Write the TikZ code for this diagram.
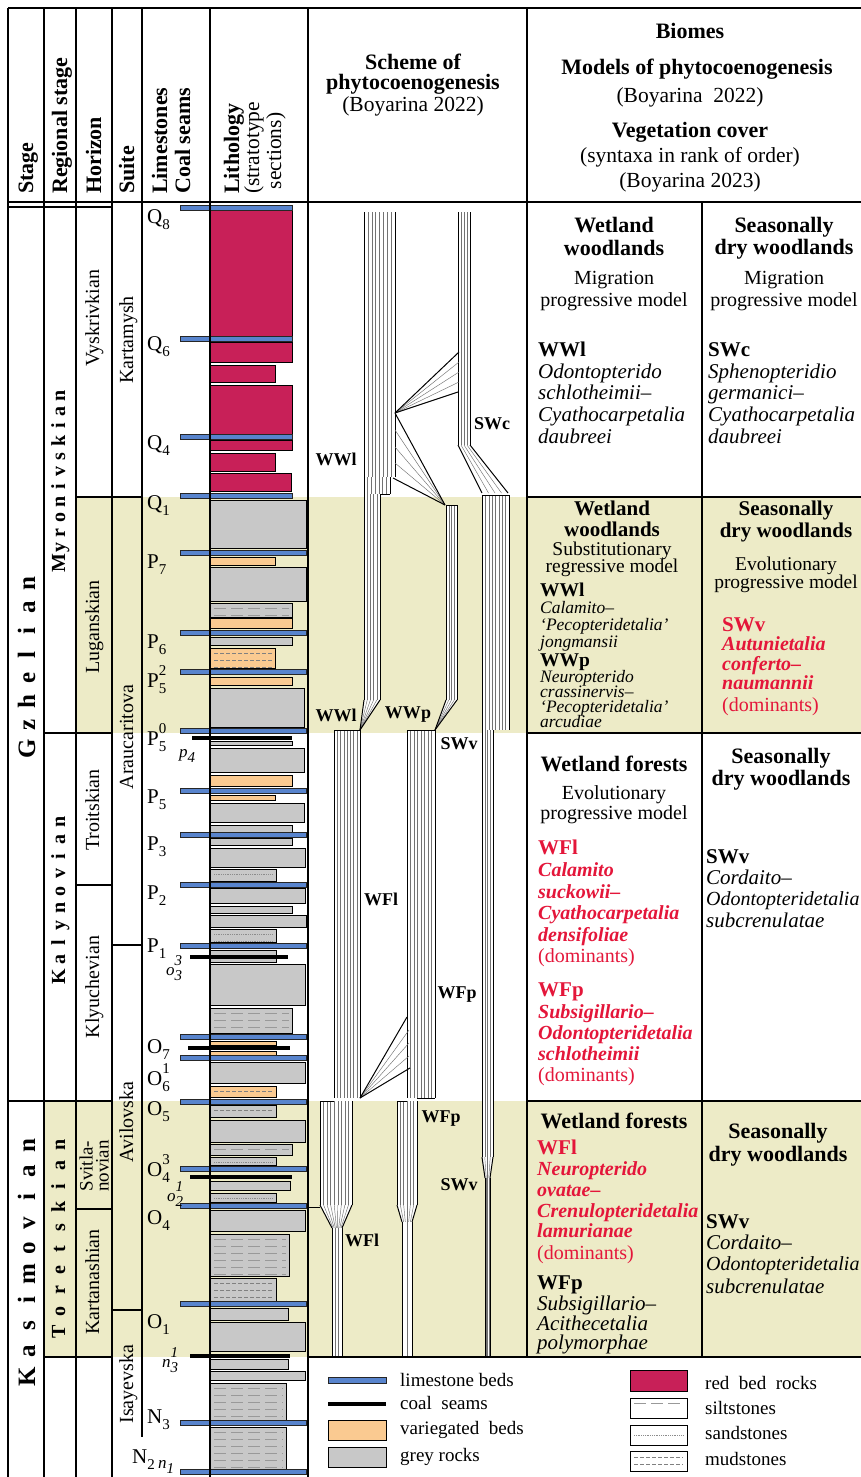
\documentclass[tikz,border=0pt]{standalone}
\usepackage{fontspec}
\setmainfont{Liberation Serif}
\definecolor{band}{RGB}{237,235,199}
\definecolor{redbed}{RGB}{200,32,88}
\definecolor{greyrock}{RGB}{200,200,200}
\definecolor{varbed}{RGB}{250,202,145}
\definecolor{limeblue}{RGB}{88,132,205}
\definecolor{redtxt}{RGB}{228,22,58}
\newcommand\fz[2]{\fontsize{#1}{#2}\selectfont}
\newcounter{tn}
\newcommand\tx[4]{\stepcounter{tn}\edef\tname{t\arabic{tn}}\node[#1] (\tname) at (#2,#3) {#4};}
\newcommand\lsub[1]{\raisebox{-0.3em}{\fz{15}{15}#1}}
\newcommand\lsupsub[2]{\rlap{\raisebox{0.55em}{\fz{15}{15}#1}}\raisebox{-0.3em}{\fz{15}{15}#2}}
\tikzset{
 gl/.style={line width=1.2pt},
 redr/.style={fill=redbed,draw=black,line width=0.9pt},
 greyr/.style={fill=greyrock,draw=black,line width=0.9pt},
 varr/.style={fill=varbed,draw=black,line width=0.9pt},
 limeb/.style={fill=limeblue,draw=black!85,line width=0.8pt},
 sandp/.style={densely dotted,line width=0.8pt,draw=black!45},
 mudp/.style={dash pattern=on 4pt off 2pt,line width=0.6pt,draw=black!50},
 siltp/.style={dash pattern=on 12pt off 5pt,line width=0.4pt,draw=black!40},
 inl/.style={line width=0.45pt,draw=black!55},
 edg/.style={line width=1pt,draw=black},
 hb/.style={inner sep=0pt,anchor=base,font=\bfseries\fz{22}{24}},
 hb2/.style={inner sep=0pt,anchor=base,font=\bfseries\fz{21}{22}},
 hr/.style={inner sep=0pt,anchor=base,font=\fz{21.5}{24}},
 cr/.style={inner sep=0pt,anchor=base,font=\fz{20}{22}},
 cr2/.style={inner sep=0pt,anchor=base,font=\fz{19.5}{21}},
 lb/.style={inner sep=0pt,anchor=base west,font=\bfseries\fz{21}{23}},
 lb2/.style={inner sep=0pt,anchor=base west,font=\bfseries\fz{19.5}{21}},
 si/.style={inner sep=0pt,anchor=base west,font=\itshape\fz{21}{23}},
 sis/.style={inner sep=0pt,anchor=base west,font=\itshape\fz{20}{22}},
 si2/.style={inner sep=0pt,anchor=base west,font=\itshape\fz{17.5}{19}},
 rb/.style={lb,text=redtxt},
 rbi/.style={inner sep=0pt,anchor=base west,text=redtxt,font=\bfseries\itshape\fz{20}{22}},
 rr/.style={inner sep=0pt,anchor=base west,text=redtxt,font=\fz{20}{22}},
 lgd/.style={inner sep=0pt,anchor=base west,font=\fz{19}{21}},
 sch/.style={inner sep=0pt,anchor=center,font=\bfseries\fz{18}{20}},
 vt/.style={inner sep=0pt,anchor=base,rotate=90,font=\fz{20}{22}},
 hv/.style={inner sep=0pt,anchor=base west,rotate=90,font=\bfseries\fz{22}{24}},
 hvr/.style={inner sep=0pt,anchor=base west,rotate=90,font=\fz{21.5}{24}},
 hvc/.style={inner sep=0pt,anchor=base,rotate=90,font=\fz{21.5}{24}},
 lim/.style={inner sep=0pt,anchor=base west,font=\fz{21}{23}},
 smi/.style={inner sep=0pt,anchor=base west,font=\itshape\fz{17}{19}},
 stg/.style={inner sep=0pt,anchor=base,font=\bfseries\fz{25}{25}},
 rst/.style={inner sep=0pt,anchor=base,font=\bfseries\fz{20}{20}}
}
\newcommand\rk[4]{\draw[#4] (210,#1) rectangle (#3,#2);}
\newcommand\rkp[5]{\draw[#4] (210,#1) rectangle (#3,#2);
 \begin{scope}\clip (211,{#1+1}) rectangle ({#3-1},{#2-1});
 \foreach \kk in {0,...,8}{\draw[#5] (214,{#1+5+\kk*7}) -- ({#3-3},{#1+5+\kk*7});}
 \end{scope}}
\newcommand\ls[2]{\draw[limeb] (180,{#1-2.6}) rectangle (#2,{#1+2.6});}
\newcommand\cs[3]{\draw[line width=3.6pt] (#2,#1) -- (#3,#1);}
\newcommand\bund[7]{%
 \fill[white] (#2,#1) -- (#3,#1) -- (#6,#4) -- (#5,#4) -- cycle;
 \pgfmathtruncatemacro\bn{#7-1}%
 \foreach \i in {1,...,\bn}{\draw[inl] ({#2+\i*(#3-#2)/#7},#1) -- ({#5+\i*(#6-#5)/#7},#4);}%
 \draw[edg] (#2,#1) -- (#5,#4); \draw[edg] (#3,#1) -- (#6,#4);}
\newcommand\vword[6]{\foreach \ch [count=\kk from 0] in {#6}{\node[#5,rotate=90] (#1\kk) at (#2,{#3-\kk*#4}) {\ch};}}
\begin{document}
\begin{tikzpicture}[x=1pt,y=-1pt]
\useasboundingbox (0,0) rectangle (861,1477);
\fill[white] (0,0) rectangle (861,1477);
\fill[band] (76,497) rectangle (861,733);
\fill[band] (44,1101) rectangle (861,1357);
% ---------- lithology ----------
\rk{210}{338}{292}{redr}
\rk{342}{362}{292}{redr}
\rk{365}{382}{275}{redr}
\rk{385}{435}{292}{redr}
\rk{440}{450}{292}{redr}
\rk{453}{471}{275}{redr}
\rk{473}{491}{291}{redr}
\rk{500}{548}{306}{greyr}
\rk{557}{565}{275}{varr}
\rk{567}{601}{306}{greyr}
\rkp{603}{617}{292}{greyr}{siltp}
\rk{618}{628}{292}{varr}
\rk{637}{645}{292}{greyr}
\rkp{648}{668}{275}{varr}{mudp}
\rk{677}{685}{292}{varr}
\rk{688}{727}{304}{greyr}
\rk{741}{745}{292}{greyr}
\rk{748}{772}{304}{greyr}
\rk{775}{786}{292}{varr}
\rk{795}{800}{275}{varr}
\rk{803}{822}{304}{greyr}
\rk{825}{832}{292}{greyr}
\rk{838}{845}{292}{greyr}
\rk{848}{867}{305}{greyr}
\rkp{869}{881}{276}{greyr}{sandp}
\rk{888}{903}{305}{greyr}
\rk{906}{913}{292}{greyr}
\rk{915}{927}{306}{greyr}
\rkp{929}{942}{276}{greyr}{sandp}
\rkp{950}{962}{276}{greyr}{sandp}
\rk{964}{1005}{305}{greyr}
\rkp{1008}{1033}{292}{greyr}{siltp}
\rk{1041}{1045}{276}{varr}
\rk{1051}{1055}{276}{varr}
\rk{1062}{1083}{305}{greyr}
\rkp{1086}{1097}{276}{varr}{mudp}
\rkp{1105}{1117}{276}{greyr}{mudp}
\rk{1120}{1142}{305}{greyr}
\rkp{1144}{1155}{292}{greyr}{siltp}
\rkp{1157}{1165}{276}{greyr}{sandp}
\rk{1181}{1190}{290}{greyr}
\rkp{1193}{1202}{276}{greyr}{sandp}
\rk{1210}{1231}{305}{greyr}
\rkp{1234}{1276}{289}{greyr}{siltp}
\rkp{1278}{1302}{276}{greyr}{mudp}
\rk{1308}{1320}{288}{greyr}
\rk{1322}{1351}{305}{greyr}
\rk{1359}{1369}{288}{greyr}
\rk{1371}{1380}{305}{greyr}
\rkp{1383}{1421}{286}{greyr}{siltp}
\rkp{1427}{1469}{286}{greyr}{siltp}
% limestone beds
\ls{208}{292}\ls{339}{292}\ls{437}{292}\ls{496}{292}
\ls{553}{306}\ls{633}{306}\ls{672}{306}\ls{731}{306}\ls{791}{306}
\ls{835}{306}\ls{885}{306}\ls{946}{306}\ls{1037}{306}\ls{1058}{306}
\ls{1102}{306}\ls{1169}{306}\ls{1206}{306}\ls{1304}{306}\ls{1423}{306}\ls{1472}{306}
% coal seams
\cs{738}{192}{292}\cs{957}{190}{288}\cs{1048}{188}{290}\cs{1177}{190}{292}\cs{1356}{190}{290}
% ---------- scheme ----------
\bund{212}{364}{395}{477}{364}{395}{8}
\bund{477}{364}{390}{494}{364}{390}{7}
\draw[edg] (380,494) -- (390,494);
\bund{494}{364}{380}{700}{364}{380}{5}
\bund{700}{364}{380}{730}{360}{360}{5}
\bund{212}{458}{470}{445}{458}{470}{4}
\bund{445}{458}{470}{493}{482}{508}{4}
\bund{495}{482}{509}{730}{482}{509}{8}
\draw[edg] (482,495) -- (509,495);
\foreach \yy in {362,372,382}{\draw[inl] (395,413) -- (459,\yy);}
\draw[edg] (395,413) -- (459,352);
\draw[edg] (395,413) -- (458,392);
\foreach \yy in {430,447,463}{\draw[inl] (395,\yy) -- (445,505);}
\draw[edg] (395,413) -- (445,505);
\draw[edg] (393,478) -- (445,505);
\bund{505}{446}{457}{700}{446}{457}{4}
\bund{700}{446}{457}{730}{435}{435}{4}
\draw[edg] (446,505) -- (457,505);
\bund{730}{334}{360}{1098}{334}{360}{8}
\draw[edg] (334,730) -- (360,730);
\bund{730}{407}{435}{1098}{407}{435}{8}
\draw[edg] (407,730) -- (435,730);
\bund{730}{482}{493}{1157}{482}{493}{4}
\bund{1157}{482}{493}{1178}{485}{490}{4}
\bund{1178}{485}{490}{1357}{485}{490}{4}
\foreach \yy in {1030,1043,1056}{\draw[inl] (360,1098) -- (409,\yy);}
\draw[edg] (360,1098) -- (407,1017);
\draw[edg] (360,1098) -- (410,1068);
\bund{1101}{320}{352}{1205}{320}{352}{9}
\bund{1205}{320}{352}{1228}{332}{342}{9}
\bund{1228}{332}{342}{1357}{332}{342}{3}
\draw[edg] (320,1101) -- (334,1101);
\bund{1101}{397}{417}{1205}{397}{417}{6}
\bund{1205}{397}{417}{1222}{402}{412}{6}
\bund{1222}{402}{412}{1357}{402}{412}{2}
\draw[edg] (397,1101) -- (407,1101);
\draw[edg] (417,1098) -- (435,1098);
\draw[edg] (308,1207) -- (320,1207);
% ---------- grid ----------
\draw[gl] (8,8) -- (861,8);
\draw[gl] (8,8) -- (8,1477);
\draw[gl] (44,8) -- (44,1477);
\draw[gl] (76,8) -- (76,1477);
\draw[gl] (112,8) -- (112,1477);
\draw[gl] (142,8) -- (142,1437);
\draw[gl] (210,8) -- (210,1477);
\draw[gl] (308,8) -- (308,1477);
\draw[gl] (527,8) -- (527,1357);
\draw[gl] (702,202) -- (702,1357);
\draw[gl] (8,202) -- (861,202);
\draw[gl] (8,207) -- (112,207);
\draw[gl] (76,497) -- (142,497);
\draw[gl] (44,733) -- (112,733);
\draw[gl] (76,885) -- (112,885);
\draw[gl] (112,945) -- (142,945);
\draw[gl] (8,1101) -- (112,1101);
\draw[gl] (76,1209) -- (112,1209);
\draw[gl] (112,1310) -- (142,1310);
\draw[gl] (44,1357) -- (112,1357);
\draw[gl] (527,497) -- (861,497);
\draw[gl] (527,733) -- (861,733);
\draw[gl] (527,1101) -- (861,1101);
\draw[gl] (308,1357) -- (861,1357);
% ---------- headers ----------
\tx{hv}{33}{194}{Stage}
\tx{hv}{67}{194}{Regional stage}
\tx{hv}{101}{194}{Horizon}
\tx{hv}{134}{194}{Suite}
\tx{hv}{167}{194}{Limestones}
\tx{hv}{190}{194}{Coal seams}
\tx{hv}{239}{194}{Lithology}
\tx{hvr}{259}{194}{(stratotype}
\tx{hvc}{281}{151}{sections)}
\tx{hb}{413}{70}{Scheme of}
\tx{hb}{413}{90}{phytocoenogenesis}
\tx{hr}{413}{112}{(Boyarina 2022)}
\tx{hb}{690}{39}{Biomes}
\tx{hb}{697}{75}{Models of phytocoenogenesis}
\tx{hr}{690}{103}{(Boyarina\ \ 2022)}
\tx{hb}{690}{137}{Vegetation cover}
\tx{hr}{690}{162}{(syntaxa in rank of order)}
\tx{hr}{690}{187}{(Boyarina 2023)}
% ---------- left column labels ----------
\vword{gz}{35}{749}{23.6}{stg}{G,z,h,e,l,i,a,n}
\vword{ks}{35}{1377}{25.7}{stg}{K,a,s,i,m,o,v,i,a,n}
\vword{my}{65}{563}{15.2}{rst}{M,y,r,o,n,i,v,s,k,i,a,n}
\vword{ka}{65}{977}{17.2}{rst}{K,a,l,y,n,o,v,i,a,n}
\vword{to}{65}{1332}{20.8}{rst}{T,o,r,e,t,s,k,i,a,n}
\tx{vt}{99}{318}{Vyskrivkian}
\tx{vt}{99}{627}{Luganskian}
\tx{vt}{99}{810}{Troitskian}
\tx{vt}{99}{987}{Klyuchevian}
\tx{vt,anchor=center,align=center,font=\fz{19}{16}}{94}{1166}{Svitla-\\novian}
\tx{vt}{99}{1282}{Kartanashian}
\tx{vt}{133}{340}{Kartamysh}
\tx{vt}{133}{737}{Araucaritova}
\tx{vt}{133}{1122}{Avilovska}
\tx{vt}{133}{1384}{Isayevska}
% limestone / coal labels
\tx{lim}{147}{223}{Q\lsub{8}}
\tx{lim}{147}{350}{Q\lsub{6}}
\tx{lim}{147}{449}{Q\lsub{4}}
\tx{lim}{147}{509}{Q\lsub{1}}
\tx{lim}{147}{568}{P\lsub{7}}
\tx{lim}{147}{648}{P\lsub{6}}
\tx{lim}{147}{687}{P\lsupsub{2}{5}}
\tx{lim}{147}{745}{P\lsupsub{0}{5}}
\tx{smi}{179}{757}{p\lsub{4}}
\tx{lim}{147}{803}{P\lsub{5}}
\tx{lim}{147}{850}{P\lsub{3}}
\tx{lim}{147}{899}{P\lsub{2}}
\tx{lim}{147}{952}{P\lsub{1}}
\tx{smi}{166}{975}{o\lsupsub{3}{3}}
\tx{lim}{147}{1053}{O\lsub{7}}
\tx{lim}{147}{1085}{O\lsupsub{1}{6}}
\tx{lim}{147}{1115}{O\lsub{5}}
\tx{lim}{147}{1176}{O\lsupsub{3}{4}}
\tx{smi}{167}{1201}{o\lsupsub{1}{2}}
\tx{lim}{147}{1224}{O\lsub{4}}
\tx{lim}{147}{1328}{O\lsub{1}}
\tx{smi}{162}{1367}{n\lsupsub{1}{3}}
\tx{lim}{147}{1423}{N\lsub{3}}
\tx{lim}{132}{1463}{N\lsub{2}}
\tx{smi}{158}{1468}{n\lsub{1}}
% scheme labels
\tx{sch}{336}{459}{WWl}
\tx{sch}{492}{424}{SWc}
\tx{sch}{336}{715}{WWl}
\tx{sch}{408}{715}{WWp}
\tx{sch}{459}{744}{SWv}
\tx{sch}{381}{899}{WFl}
\tx{sch}{457}{995}{WFp}
\tx{sch}{441}{1119}{WFp}
\tx{sch}{459}{1185}{SWv}
\tx{sch}{362}{1240}{WFl}
% ---------- biomes: section 1 ----------
\tx{hb}{614}{232}{Wetland}
\tx{hb}{614}{255}{woodlands}
\tx{cr}{614}{284}{Migration}
\tx{cr}{614}{306}{progressive model}
\tx{lb}{538}{356}{WWl}
\tx{si}{538}{378}{Odontopterido}
\tx{si}{538}{399}{schlotheimii--}
\tx{si}{538}{421}{Cyathocarpetalia}
\tx{si}{538}{443}{daubreei}
\tx{hb}{784}{232}{Seasonally}
\tx{hb}{784}{254}{dry woodlands}
\tx{cr}{784}{284}{Migration}
\tx{cr}{784}{306}{progressive model}
\tx{lb}{708}{356}{SWc}
\tx{si}{708}{378}{Sphenopteridio}
\tx{si}{708}{399}{germanici--}
\tx{si}{708}{421}{Cyathocarpetalia}
\tx{si}{708}{443}{daubreei}
% section 2
\tx{hb2}{612}{515}{Wetland}
\tx{hb2}{612}{536}{woodlands}
\tx{cr2}{612}{555}{Substitutionary}
\tx{cr2}{612}{572}{regressive model}
\tx{lb2}{540}{596}{WWl}
\tx{si2}{540}{613}{Calamito--}
\tx{si2}{540}{630}{`Pecopteridetalia'}
\tx{si2}{540}{647}{jongmansii}
\tx{lb2}{540}{666}{WWp}
\tx{si2}{540}{682}{Neuropterido}
\tx{si2}{540}{697}{crassinervis--}
\tx{si2}{540}{712}{`Pecopteridetalia'}
\tx{si2}{540}{727}{arcudiae}
\tx{hb2}{786}{515}{Seasonally}
\tx{hb2}{786}{537}{dry woodlands}
\tx{cr2}{786}{570}{Evolutionary}
\tx{cr2}{786}{588}{progressive model}
\tx{rb}{722}{631}{SWv}
\tx{rbi}{722}{650}{Autunietalia}
\tx{rbi}{722}{670}{conferto--}
\tx{rbi}{722}{689}{naumannii}
\tx{rr}{722}{711}{(dominants)}
% section 3
\tx{hb}{614}{771}{Wetland forests}
\tx{cr}{614}{799}{Evolutionary}
\tx{cr}{614}{819}{progressive model}
\tx{rb}{538}{854}{WFl}
\tx{rbi}{538}{876}{Calamito}
\tx{rbi}{538}{898}{suckowii--}
\tx{rbi}{538}{919}{Cyathocarpetalia}
\tx{rbi}{538}{941}{densifoliae}
\tx{rr}{538}{962}{(dominants)}
\tx{rb}{538}{996}{WFp}
\tx{rbi}{538}{1018}{Subsigillario--}
\tx{rbi}{538}{1039}{Odontopteridetalia}
\tx{rbi}{538}{1060}{schlotheimii}
\tx{rr}{538}{1081}{(dominants)}
\tx{hb}{781}{763}{Seasonally}
\tx{hb}{781}{785}{dry woodlands}
\tx{lb}{706}{863}{SWv}
\tx{si}{706}{884}{Cordaito--}
\tx{sis}{706}{905}{Odontopteridetalia}
\tx{si}{706}{927}{subcrenulatae}
% section 4
\tx{hb}{614}{1128}{Wetland forests}
\tx{rb}{537}{1154}{WFl}
\tx{rbi}{537}{1175}{Neuropterido}
\tx{rbi}{537}{1196}{ovatae--}
\tx{rbi}{537}{1217}{Crenulopteridetalia}
\tx{rbi}{537}{1237}{lamurianae}
\tx{rr}{537}{1259}{(dominants)}
\tx{lb}{537}{1289}{WFp}
\tx{si}{537}{1310}{Subsigillario--}
\tx{si}{537}{1330}{Acithecetalia}
\tx{si}{537}{1349}{polymorphae}
\tx{hb}{778}{1138}{Seasonally}
\tx{hb}{778}{1161}{dry woodlands}
\tx{lb}{706}{1228}{SWv}
\tx{si}{706}{1249}{Cordaito--}
\tx{sis}{706}{1270}{Odontopteridetalia}
\tx{si}{706}{1293}{subcrenulatae}
% ---------- legend ----------
\draw[limeb] (328,1377) rectangle (386,1383);
\draw[line width=3.6pt] (328,1404) -- (386,1404);
\draw[varr] (328,1420) rectangle (386,1440);
\draw[greyr] (328,1447) rectangle (386,1467);
\draw[redr] (630,1370) rectangle (687,1391);
\draw[fill=white,draw=black,line width=0.9pt] (630,1398) rectangle (687,1418);
\draw[siltp] (634,1403) -- (683,1403);
\draw[fill=white,draw=black,line width=0.9pt] (630,1425) rectangle (687,1445);
\draw[sandp] (634,1435) -- (683,1435);
\draw[fill=white,draw=black,line width=0.9pt] (630,1451) rectangle (687,1471);
\draw[mudp] (634,1457) -- (683,1457);
\draw[mudp] (634,1464) -- (683,1464);
\tx{lgd}{400}{1386}{limestone beds}
\tx{lgd}{400}{1409}{coal\ \ seams}
\tx{lgd}{400}{1434}{variegated\ \ beds}
\tx{lgd}{400}{1461}{grey rocks}
\tx{lgd}{705}{1389}{red\ \ bed\ \ rocks}
\tx{lgd}{705}{1414}{siltstones}
\tx{lgd}{705}{1439}{sandstones}
\tx{lgd}{705}{1465}{mudstones}
\end{tikzpicture}
\end{document}
